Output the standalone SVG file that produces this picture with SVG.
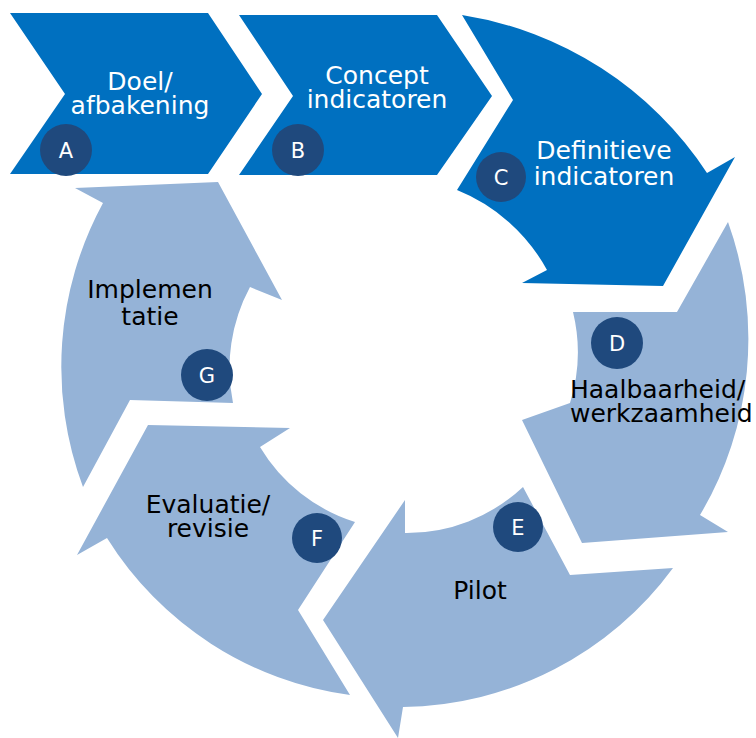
<svg xmlns="http://www.w3.org/2000/svg" width="756" height="738" viewBox="0 0 756 738">
<style>
.dark{fill:#0070C0}
.light{fill:#95B3D7}
.badge{fill:#1F497D}
.lbl{font-family:"DejaVu Sans",Verdana,sans-serif;font-size:25px}
.w{fill:#ffffff}
.k{fill:#000000}
.mid{text-anchor:middle}
.letter{font-family:"DejaVu Sans",Verdana,sans-serif;font-size:21px;fill:#ffffff;text-anchor:middle}
</style>
<rect x="0" y="0" width="756" height="738" fill="#ffffff"/>
<g id="node-A">
<path class="dark" d="M10,13 L208,13 L262,94 L208,174 L10,174 L65,94 Z"/>
<text class="lbl w mid" x="140" y="90">Doel/</text>
<text class="lbl w mid" x="140" y="114">afbakening</text>
<circle class="badge" cx="66" cy="150" r="26"/>
<text class="letter" x="66" y="157.5">A</text>
</g>
<g id="node-B">
<path class="dark" d="M239,15 L437,15 L492,96 L437,175 L239,175 L293,96 Z"/>
<text class="lbl w mid" x="377" y="84">Concept</text>
<text class="lbl w mid" x="377" y="108">indicatoren</text>
<circle class="badge" cx="298" cy="150" r="26"/>
<text class="letter" x="298" y="157.5">B</text>
</g>
<g id="node-C">
<path class="dark" d="M462,15 A360,360 0 0 1 707,173 L735,157 L663,286 L522,283 L547,270 A178,178 0 0 0 457,190 L513,100 Z"/>
<text class="lbl w mid" x="604" y="159">Definitieve</text>
<text class="lbl w mid" x="604" y="185">indicatoren</text>
<circle class="badge" cx="501" cy="177" r="25"/>
<text class="letter" x="501" y="184.5">C</text>
</g>
<g id="node-D">
<path class="light" d="M573,312 L677,312 L728,222 A345,345 0 0 1 700,515 L728,532 L582,543 L522,420 L570,403 A170,170 0 0 0 573,312 Z"/>
<circle class="badge" cx="617" cy="343" r="26"/>
<text class="letter" x="617" y="350.5">D</text>
<text class="lbl k" x="570" y="398">Haalbaarheid/</text>
<text class="lbl k" x="570" y="422">werkzaamheid</text>
</g>
<g id="node-E">
<path class="light" d="M523,487 L570,575 L673,568 A340,340 0 0 1 403,707 L398,738 L323,620 L405,500 L405,533 A170,170 0 0 0 523,487 Z"/>
<circle class="badge" cx="518" cy="527" r="25"/>
<text class="letter" x="518" y="534.5">E</text>
<text class="lbl k mid" x="480" y="599">Pilot</text>
</g>
<g id="node-F">
<path class="light" d="M355,522 L298,610 L350,695 A340,340 0 0 1 107,538 L77,555 L148,425 L290,428 L260,447 A170,170 0 0 0 355,522 Z"/>
<text class="lbl k mid" x="208" y="513">Evaluatie/</text>
<text class="lbl k mid" x="208" y="537">revisie</text>
<circle class="badge" cx="317" cy="538" r="25"/>
<text class="letter" x="317" y="545.5">F</text>
</g>
<g id="node-G">
<path class="light" d="M233,403 L130,400 L83,487 A343,343 0 0 1 103,203 L75,188 L218,182 L282,300 L250,287 A172,172 0 0 0 233,403 Z"/>
<text class="lbl k mid" x="150" y="298">Implemen</text>
<text class="lbl k mid" x="150" y="325">tatie</text>
<circle class="badge" cx="207" cy="375" r="26"/>
<text class="letter" x="207" y="382.5">G</text>
</g>
</svg>
